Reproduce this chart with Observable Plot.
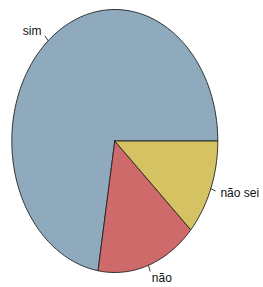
<!DOCTYPE html>
<html>
<head>
<meta charset="utf-8">
<script src="https://cdn.jsdelivr.net/npm/d3@7"></script>
<script src="https://cdn.jsdelivr.net/npm/@observablehq/plot@0.6"></script>
<style>
  html, body { margin: 0; padding: 0; background: #fff; }
</style>
</head>
<body>
<div id="chart"></div>
<script>
const slices = ["sim", "não", "não sei"];
const values = [72.4, 15.8, 11.8];
const colors = ["#8eaabc", "#cf6a6b", "#d4c263"];

// geometry of slices (counter-clockwise from 3 o'clock, like R's pie)
const total = d3.sum(values);
let acc = 0;
const segs = slices.map((s, i) => {
  const a0 = acc / total * 2 * Math.PI;
  acc += values[i];
  const a1 = acc / total * 2 * Math.PI;
  return {slice: s, a0, a1, mid: (a0 + a1) / 2, color: colors[i]};
});

function polygon(seg) {
  const n = Math.max(2, Math.ceil((seg.a1 - seg.a0) / (2 * Math.PI) * 200));
  const pts = [{x: 0, y: 0}];
  for (let k = 0; k <= n; k++) {
    const a = seg.a0 + (seg.a1 - seg.a0) * k / n;
    pts.push({x: Math.cos(a), y: Math.sin(a)});
  }
  pts.push({x: 0, y: 0});
  return pts;
}

const ticks = segs.map(s => ({
  slice: s.slice,
  x1: Math.cos(s.mid), y1: Math.sin(s.mid),
  x2: 1.05 * Math.cos(s.mid), y2: 1.05 * Math.sin(s.mid)
}));
const labels = segs.map(s => ({
  slice: s.slice,
  x: 1.1 * Math.cos(s.mid), y: 1.1 * Math.sin(s.mid),
  anchor: Math.cos(s.mid) > 0 ? "start" : "end"
}));

const cx = 114.3, cy = 140.5, rx = 103, ry = 131.5, W = 263, H = 287;

const chart = Plot.plot({
  width: W,
  height: H,
  margin: 0,
  x: {domain: [(0 - cx) / rx, (W - cx) / rx], axis: null},
  y: {domain: [(cy - H) / ry, cy / ry], axis: null},
  style: {fontFamily: "'Liberation Sans', Arial, sans-serif", fontSize: "12px", background: "#fff"},
  marks: [
    ...segs.map(s => Plot.line(polygon(s), {
      x: "x", y: "y", fill: s.color, stroke: "#222", strokeWidth: 0.9, curve: "linear"
    })),
    Plot.link(ticks, {x1: "x1", y1: "y1", x2: "x2", y2: "y2", stroke: "#222", strokeWidth: 0.9}),
    Plot.text(labels.filter(d => d.anchor === "start"), {
      x: "x", y: "y", text: "slice", textAnchor: "start", fill: "#111", fontSize: 12
    }),
    Plot.text(labels.filter(d => d.anchor === "end"), {
      x: "x", y: "y", text: "slice", textAnchor: "end", fill: "#111", fontSize: 12
    })
  ]
});
document.getElementById("chart").appendChild(chart);
</script>
</body>
</html>
